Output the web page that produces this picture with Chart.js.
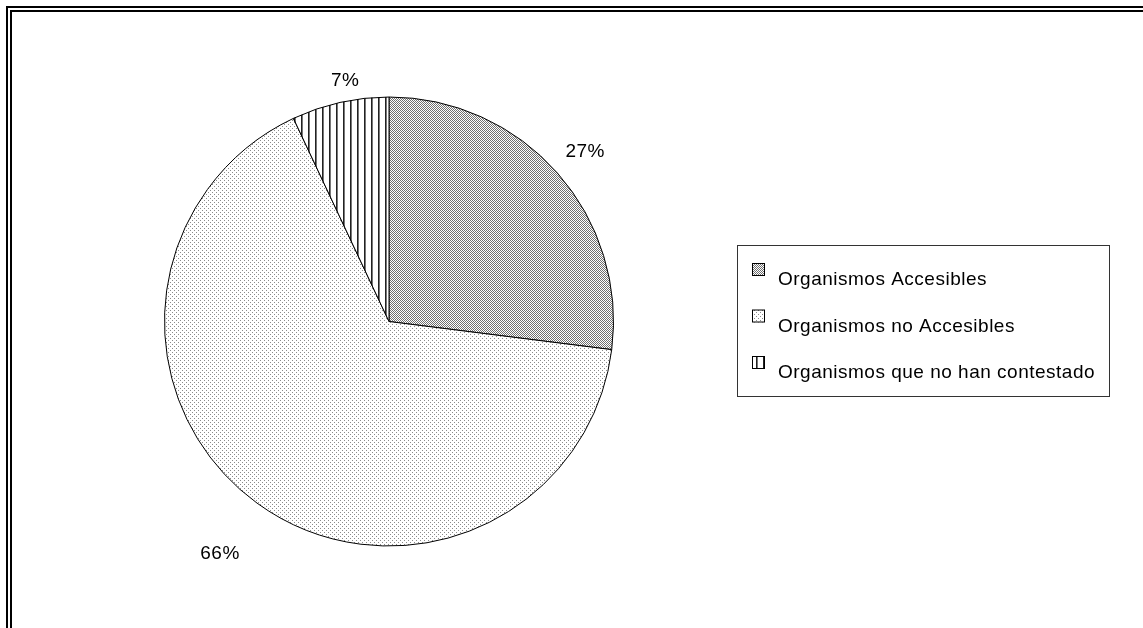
<!DOCTYPE html>
<html>
<head>
<meta charset="utf-8">
<script src="https://cdn.jsdelivr.net/npm/chart.js@4/dist/chart.umd.min.js"></script>
<style>
  html, body { margin: 0; padding: 0; background: #fff; overflow: hidden; }
  #wrap { position: relative; width: 1143px; height: 628px; }
  .frame {
    position: absolute; right: -10px; bottom: -10px;
    border-left: 2px solid #000; border-top: 2px solid #000;
    pointer-events: none;
  }
  #frameOut { left: 6px; top: 6px; }
  #frameIn { left: 10px; top: 10px; }
  canvas { position: absolute; left: 0; top: 0; }
</style>
</head>
<body>
<div id="wrap">
  <canvas id="pie"></canvas>
  <div class="frame" id="frameOut"></div>
  <div class="frame" id="frameIn"></div>
</div>
<script>
const categories = ["Organismos Accesibles", "Organismos no Accesibles", "Organismos que no han contestado"];
const shares = [27, 66, 7];
const shareLabels = ["27%", "66%", "7%"];

const FONT = "19px 'Liberation Sans', Arial, sans-serif";

const canvas = document.getElementById("pie");
const ctx = canvas.getContext("2d");

// fill patterns (dense checker, sparse dots, vertical lines)
function makePattern(w, h, draw) {
  const c = document.createElement("canvas");
  c.width = w; c.height = h;
  const p = c.getContext("2d");
  p.fillStyle = "#fff";
  p.fillRect(0, 0, w, h);
  draw(p);
  return ctx.createPattern(c, "repeat");
}

const patterns = [
  makePattern(2, 2, p => {
    p.fillStyle = "#707070";
    p.fillRect(0, 0, 1, 1);
    p.fillRect(1, 1, 1, 1);
  }),
  makePattern(4, 4, p => {
    p.fillStyle = "#8a8a8a";
    p.fillRect(0, 0, 1, 1);
    p.fillRect(2, 2, 1, 1);
  }),
  makePattern(7, 1, p => {
    p.fillStyle = "#222";
    p.fillRect(0, 0, 1, 1);
    p.fillStyle = "#777";
    p.fillRect(1, 0, 1, 1);
  })
];

// percentage labels outside the slices
const outsideLabels = {
  id: "outsideLabels",
  afterDatasetsDraw(chart, args, opts) {
    const c = chart.ctx;
    const arcs = chart.getDatasetMeta(0).data;
    c.save();
    c.font = FONT;
    c.letterSpacing = "0.5px";
    c.fillStyle = "#000";
    c.textAlign = "center";
    c.textBaseline = "middle";
    arcs.forEach((arc, i) => {
      const mid = (arc.startAngle + arc.endAngle) / 2 + opts.turn[i] * Math.PI / 180;
      const r = arc.outerRadius + opts.extra[i];
      c.fillText(shareLabels[i], arc.x + Math.cos(mid) * r, arc.y + Math.sin(mid) * r);
    });
    c.restore();
  }
};

// boxed legend on the right
const boxLegend = {
  id: "boxLegend",
  afterDraw(chart, args, opts) {
    const c = chart.ctx;
    c.save();
    c.strokeStyle = "#333";
    c.lineWidth = 1;
    c.strokeRect(opts.x + 0.5, opts.y + 0.5, opts.w, opts.h);
    c.font = FONT;
    c.letterSpacing = "0.5px";
    c.textBaseline = "middle";
    c.textAlign = "left";
    chart.data.labels.forEach((lab, i) => {
      const cy = opts.y + opts.first + i * opts.step;
      c.fillStyle = chart.data.datasets[0].backgroundColor[i];
      c.fillRect(opts.x + 15, cy - 17, 13, 13);
      c.strokeStyle = "#000";
      c.strokeRect(opts.x + 15.5, cy - 16.5, 12, 12);
      c.fillStyle = "#000";
      c.fillText(lab, opts.x + 41, cy);
    });
    c.restore();
  }
};

new Chart(canvas, {
  type: "pie",
  data: {
    labels: categories,
    datasets: [{
      data: shares,
      backgroundColor: patterns,
      borderColor: "#000",
      borderWidth: 1
    }]
  },
  options: {
    responsive: true,
    maintainAspectRatio: false,
    animation: false,
    layout: { padding: { left: 164, right: 529, top: 96, bottom: 81 } },
    plugins: {
      legend: { display: false },
      tooltip: { enabled: false },
      title: { display: false },
      outsideLabels: { extra: [35, 63, 20], turn: [0.5, 0, 2.3] },
      boxLegend: { x: 737, y: 245, w: 372, h: 151, first: 35, step: 46.5 }
    }
  },
  plugins: [outsideLabels, boxLegend]
});
</script>
</body>
</html>
